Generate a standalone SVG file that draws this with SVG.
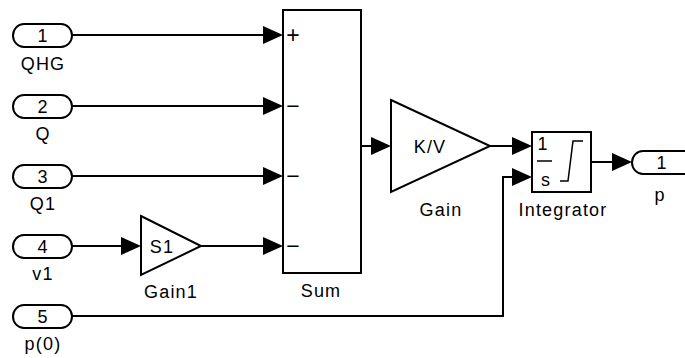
<svg xmlns="http://www.w3.org/2000/svg" width="685" height="358" viewBox="0 0 685 358">
<defs>
<marker id="ah" markerUnits="userSpaceOnUse" markerWidth="20" markerHeight="18" refX="0" refY="9" orient="auto" overflow="visible">
<path d="M0,0 L20,9 L0,18 Z" fill="#000"/>
</marker>
<style>
.blk{fill:#fff;stroke:#000;stroke-width:2}
.ln{fill:none;stroke:#000;stroke-width:2;marker-end:url(#ah)}
.t{font-family:"Liberation Sans",Arial,sans-serif;font-size:18px;letter-spacing:1.2px;fill:#000;text-anchor:middle}
.s{font-family:"Liberation Sans",Arial,sans-serif;font-size:23px;fill:#000;text-anchor:middle}
</style>
</defs>
<rect width="685" height="358" fill="#fff"/>
<g id="connectors">
<path class="ln" d="M72,35 H263"/>
<path class="ln" d="M72,106 H263"/>
<path class="ln" d="M72,176 H263"/>
<path class="ln" d="M72,246 H121"/>
<path class="ln" d="M201,246 H263"/>
<path class="ln" d="M361,146 H371"/>
<path class="ln" d="M490,146 H512"/>
<path class="ln" d="M72,316 H503 V177 H512"/>
<path class="ln" d="M591,162 H612"/>
</g>
<g id="in1">
<rect class="blk" x="13" y="24" width="59" height="23" rx="11" ry="11.5"/>
<text class="t" x="43" y="42">1</text>
<text class="t" x="43" y="70">QHG</text>
</g>
<g id="in2">
<rect class="blk" x="13" y="95" width="59" height="23" rx="11" ry="11.5"/>
<text class="t" x="43" y="113">2</text>
<text class="t" x="43" y="140">Q</text>
</g>
<g id="in3">
<rect class="blk" x="13" y="165" width="59" height="23" rx="11" ry="11.5"/>
<text class="t" x="43" y="183">3</text>
<text class="t" x="43" y="210">Q1</text>
</g>
<g id="in4">
<rect class="blk" x="13" y="235" width="59" height="23" rx="11" ry="11.5"/>
<text class="t" x="43" y="253">4</text>
<text class="t" x="43" y="280">v1</text>
</g>
<g id="in5">
<rect class="blk" x="13" y="305" width="59" height="23" rx="11" ry="11.5"/>
<text class="t" x="43" y="323">5</text>
<text class="t" x="43" y="350">p(0)</text>
</g>
<g id="gain1">
<path class="blk" d="M141,216 L201,246 L141,275 Z"/>
<text class="t" x="162" y="253">S1</text>
<text class="t" x="171" y="298">Gain1</text>
</g>
<g id="sum">
<rect class="blk" x="283" y="10" width="78" height="263"/>
<text class="s" x="293" y="43">+</text>
<text class="s" x="293" y="114">−</text>
<text class="s" x="293" y="184">−</text>
<text class="s" x="293" y="254">−</text>
<text class="t" x="321" y="297">Sum</text>
</g>
<g id="gain">
<path class="blk" d="M391,100 L490,146 L391,192 Z"/>
<text class="t" x="430" y="153">K/V</text>
<text class="t" x="441" y="216">Gain</text>
</g>
<g id="integrator">
<rect class="blk" x="532" y="132" width="59" height="60"/>
<text class="t" x="543" y="150">1</text>
<line x1="537" y1="161" x2="552" y2="161" stroke="#000" stroke-width="1.5"/>
<text class="t" x="546" y="186">s</text>
<path d="M560,181 H568 L573,141 H583" fill="none" stroke="#000" stroke-width="1.5"/>
<text class="t" x="563" y="216">Integrator</text>
</g>
<g id="out1">
<rect class="blk" x="632" y="151" width="70" height="23" rx="11" ry="11.5"/>
<text class="t" x="662" y="169">1</text>
<text class="t" x="660" y="201">p</text>
</g>
</svg>
